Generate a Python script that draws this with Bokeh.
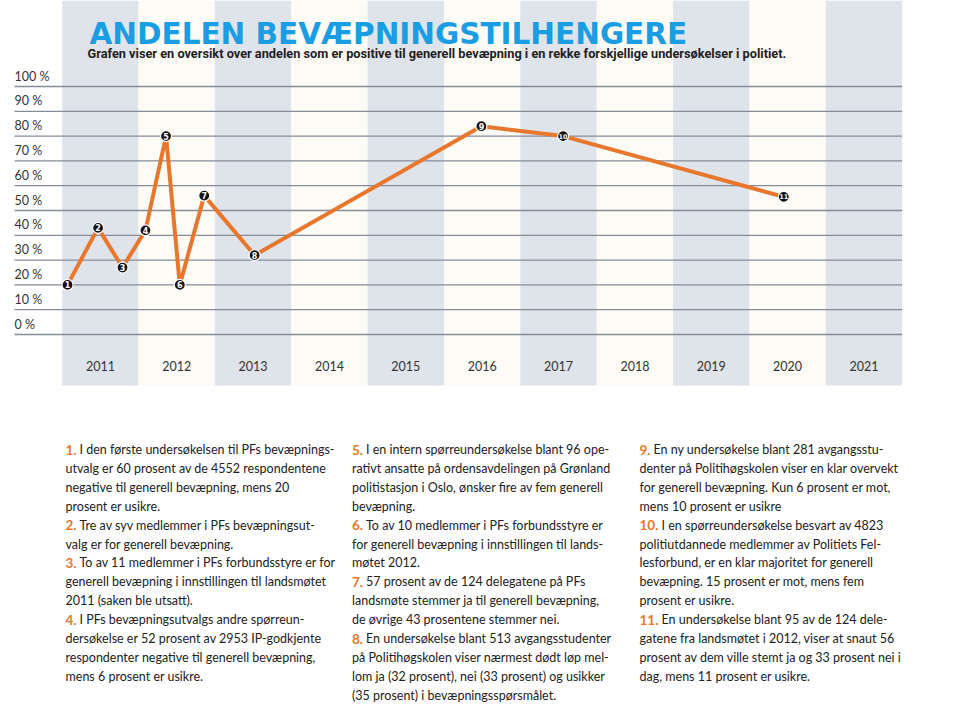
from bokeh.plotting import figure
from bokeh.models import Range1d
from bokeh.core.properties import value
from bokeh.embed import file_html
from bokeh.resources import INLINE

# ---------------- data ----------------
years = list(range(2011, 2022))
year_labels = [str(y) for y in years]
pct_ticks = [0, 10, 20, 30, 40, 50, 60, 70, 80, 90, 100]
pct_labels = [f"{t} %" for t in pct_ticks]

survey_no = [str(i) for i in range(1, 12)]
survey_time = [2011.07, 2011.47, 2011.79, 2012.09, 2012.36, 2012.54,
               2012.86, 2013.52, 2016.49, 2017.56, 2020.45]
survey_pct = [20, 43, 27, 42, 80, 20, 56, 32, 84, 80, 55.5]

title = "ANDELEN BEVÆPNINGSTILHENGERE"
subtitle = ("Grafen viser en oversikt over andelen som er positive til generell "
            "bevæpning i en rekke forskjellige undersøkelser i politiet.")

notes_col1 = [
    ("1.", ["I den første undersøkelsen til PFs bevæpnings-",
            "utvalg er 60 prosent av de 4552 respondentene",
            "negative til generell bevæpning, mens 20",
            "prosent er usikre."]),
    ("2.", ["Tre av syv medlemmer i PFs bevæpningsut-",
            "valg er for generell bevæpning."]),
    ("3.", ["To av 11 medlemmer i PFs forbundsstyre er for",
            "generell bevæpning i innstillingen til landsmøtet",
            "2011 (saken ble utsatt)."]),
    ("4.", ["I PFs bevæpningsutvalgs andre spørreun-",
            "dersøkelse er 52 prosent av 2953 IP-godkjente",
            "respondenter negative til generell bevæpning,",
            "mens 6 prosent er usikre."]),
]
notes_col2 = [
    ("5.", ["I en intern spørreundersøkelse blant 96 ope-",
            "rativt ansatte på ordensavdelingen på Grønland",
            "politistasjon i Oslo, ønsker fire av fem generell",
            "bevæpning."]),
    ("6.", ["To av 10 medlemmer i PFs forbundsstyre er",
            "for generell bevæpning i innstillingen til lands-",
            "møtet 2012."]),
    ("7.", ["57 prosent av de 124 delegatene på PFs",
            "landsmøte stemmer ja til generell bevæpning,",
            "de øvrige 43 prosentene stemmer nei."]),
    ("8.", ["En undersøkelse blant 513 avgangsstudenter",
            "på Politihøgskolen viser nærmest dødt løp mel-",
            "lom ja (32 prosent), nei (33 prosent) og usikker",
            "(35 prosent) i bevæpningsspørsmålet."]),
]
notes_col3 = [
    ("9.", ["En ny undersøkelse blant 281 avgangsstu-",
            "denter på Politihøgskolen viser en klar overvekt",
            "for generell bevæpning. Kun 6 prosent er mot,",
            "mens 10 prosent er usikre"]),
    ("10.", ["I en spørreundersøkelse besvart av 4823",
             "politiutdannede medlemmer av Politiets Fel-",
             "lesforbund, er en klar majoritet for generell",
             "bevæpning. 15 prosent er mot, mens fem",
             "prosent er usikre."]),
    ("11.", ["En undersøkelse blant 95 av de 124 dele-",
             "gatene fra landsmøtet i 2012, viser at snaut 56",
             "prosent av dem ville stemt ja og 33 prosent nei i",
             "dag, mens 11 prosent er usikre."]),
]

# ---------------- layout constants (pixels) ----------------
W, H = 940, 706
BAND_LEFT = 61.7      # px of left edge of first year band
YEAR_W = 76.36        # px per year
ZERO_Y = 334.0        # px (from top) of the 0 % line
PCT_H = 2.48          # px per percent


def fx(px):
    return years[0] + (px - BAND_LEFT) / YEAR_W


def fy(py):
    return (ZERO_Y - py) / PCT_H


p = figure(width=W, height=H, output_backend="svg", toolbar_location=None,
           x_range=Range1d(fx(0), fx(W)), y_range=Range1d(fy(H), fy(0)),
           x_axis_location=None, y_axis_location=None, min_border=0,
           background_fill_color="white", border_fill_color="white")
p.grid.visible = False
p.outline_line_color = None

# year bands
band_colors = ["#dfe3ea" if i % 2 == 0 else "#fcfbf6" for i in range(len(years))]
p.quad(left=years, right=[y + 1 for y in years], bottom=fy(385), top=fy(0),
       fill_color=band_colors, line_color=None)

# horizontal grid lines
p.segment(x0=fx(14), x1=years[-1] + 1, y0=pct_ticks, y1=pct_ticks,
          line_color="#858d98", line_width=1.3)

# y tick labels (above each line)
p.text(x=fx(14), y=[t + 4.2 for t in pct_ticks], text=pct_labels,
       text_font=value("Lato"), text_font_size="12.5px", text_color="#333333",
       text_align="left", text_baseline="middle")

# x tick labels inside bands
p.text(x=[y + 0.5 for y in years], y=fy(365), text=year_labels,
       text_font=value("Lato"), text_font_size="12.5px", text_color="#333333",
       text_align="center", text_baseline="middle")

# series
p.line(survey_time, survey_pct, line_color="#e8772e", line_width=4)
p.scatter(survey_time, survey_pct, size=11, fill_color="#111111",
          line_color="white", line_width=1.2)
num_sizes = ["8px" if len(n) == 1 else "6.5px" for n in survey_no]
p.text(x=survey_time, y=survey_pct, text=survey_no, text_font_size=num_sizes,
       text_font=value("DejaVu Sans"), text_font_style="bold", text_color="white",
       text_align="center", text_baseline="middle")

# title + subtitle
p.text(x=[fx(89)], y=[fy(33)], text=[title], text_font=value("DejaVu Sans"),
       text_font_style="bold", text_font_size="29.5px", text_color="#1a9de2",
       text_baseline="alphabetic", text_align="left")
p.text(x=[fx(87)], y=[fy(52.5)], text=[subtitle], text_font=value("Roboto"),
       text_font_style="bold", text_font_size="12.75px", text_color="#1e1e1e",
       text_baseline="alphabetic", text_align="left")

# notes
LINE_H = 18.9
FIRST_Y = 449.0
BODY_FONT = "Lato"


def draw_notes(col, x_px):
    nx, ny, nt = [], [], []
    bx, by, bt = [], [], []
    row = 0
    for num, lines in col:
        yy = FIRST_Y + row * LINE_H
        nx.append(fx(x_px)); ny.append(fy(yy)); nt.append(num)
        off = 14 if len(num) == 2 else 22
        for k, ln in enumerate(lines):
            bx.append(fx(x_px + (off if k == 0 else 0)))
            by.append(fy(FIRST_Y + (row + k) * LINE_H))
            bt.append(ln)
        row += len(lines)
    p.text(x=nx, y=ny, text=nt, text_font=value("Lato"), text_font_style="bold",
           text_font_size="13.5px", text_color="#e8772e",
           text_align="left", text_baseline="middle")
    p.text(x=bx, y=by, text=bt, text_font=value(BODY_FONT),
           text_font_size="12.5px", text_color="#222222",
           text_align="left", text_baseline="middle")


draw_notes(notes_col1, 65)
draw_notes(notes_col2, 351.5)
draw_notes(notes_col3, 639)

open("out.html", "w").write(file_html(p, INLINE))
